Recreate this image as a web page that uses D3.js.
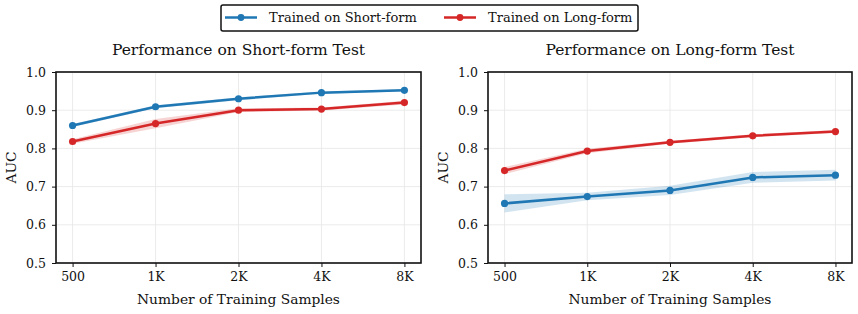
<!DOCTYPE html>
<html>
<head>
<meta charset="utf-8">
<script src="https://cdn.jsdelivr.net/npm/d3@7"></script>
<style>
  body { margin: 0; background: #fff; }
  svg text { font-family: "DejaVu Serif", "Liberation Serif", serif; fill: #111; }
</style>
</head>
<body>
<svg id="chart" width="858" height="314"></svg>
<script>
// sample sizes on the x axis
const sizes = ["500", "1K", "2K", "4K", "8K"];
const yTicks = [0.5, 0.6, 0.7, 0.8, 0.9, 1.0];

// panel 1: short-form test
const shortTestShortMean = [0.860, 0.909, 0.930, 0.946, 0.952];
const shortTestShortStd  = [0.004, 0.004, 0.004, 0.003, 0.003];
const shortTestLongMean  = [0.818, 0.865, 0.900, 0.903, 0.920];
const shortTestLongStd   = [0.006, 0.012, 0.005, 0.004, 0.005];

// panel 2: long-form test
const longTestShortMean = [0.656, 0.674, 0.690, 0.724, 0.730];
const longTestShortStd  = [0.024, 0.010, 0.012, 0.014, 0.014];
const longTestLongMean  = [0.742, 0.793, 0.816, 0.833, 0.844];
const longTestLongStd   = [0.009, 0.006, 0.004, 0.004, 0.004];

const seriesNames = ["Trained on Short-form", "Trained on Long-form"];
const colors = ["#1f77b4", "#d62728"];

const panels = [
  {title: "Performance on Short-form Test", left: 56, right: 421,
   series: [[shortTestShortMean, shortTestShortStd], [shortTestLongMean, shortTestLongStd]]},
  {title: "Performance on Long-form Test", left: 488, right: 852,
   series: [[longTestShortMean, longTestShortStd], [longTestLongMean, longTestLongStd]]}
];

const plotTop = 72, plotBottom = 263;
const svg = d3.select("#chart");

panels.forEach(p => {
  const x = d3.scaleLinear().domain([-0.2, sizes.length - 1 + 0.2]).range([p.left, p.right]);
  const y = d3.scaleLinear().domain([0.5, 1.0]).range([plotBottom, plotTop]);
  const g = svg.append("g");

  // grid
  g.selectAll(".gx").data(sizes).join("line")
    .attr("x1", (d, i) => x(i)).attr("x2", (d, i) => x(i))
    .attr("y1", plotTop).attr("y2", plotBottom)
    .attr("stroke", "#e6e6e6").attr("stroke-width", 0.8);
  g.selectAll(".gy").data(yTicks).join("line")
    .attr("x1", p.left).attr("x2", p.right)
    .attr("y1", d => y(d)).attr("y2", d => y(d))
    .attr("stroke", "#e6e6e6").attr("stroke-width", 0.8);

  // bands, lines, markers
  p.series.forEach(([mean, std], s) => {
    const area = d3.area()
      .x((d, i) => x(i))
      .y0((d, i) => y(d - std[i]))
      .y1((d, i) => y(d + std[i]));
    g.append("path").datum(mean).attr("d", area)
      .attr("fill", colors[s]).attr("opacity", 0.2);
    const line = d3.line().x((d, i) => x(i)).y(d => y(d));
    g.append("path").datum(mean).attr("d", line)
      .attr("fill", "none").attr("stroke", colors[s]).attr("stroke-width", 2.5);
    g.selectAll(null).data(mean).join("circle")
      .attr("cx", (d, i) => x(i)).attr("cy", d => y(d)).attr("r", 3.6)
      .attr("fill", colors[s]);
  });

  // axes
  const xAxis = d3.axisBottom(x).tickValues(d3.range(sizes.length))
    .tickFormat(i => sizes[i]).tickSize(4).tickPadding(5);
  const yAxis = d3.axisLeft(y).tickValues(yTicks)
    .tickFormat(d3.format(".1f")).tickSize(4).tickPadding(6);
  const gx = g.append("g").attr("transform", `translate(0,${plotBottom})`).call(xAxis);
  const gy = g.append("g").attr("transform", `translate(${p.left},0)`).call(yAxis);
  [gx, gy].forEach(a => {
    a.select(".domain").remove();
    a.selectAll(".tick line").attr("stroke", "#111").attr("stroke-width", 1);
    a.selectAll(".tick text").attr("font-size", 12.5).style("font-family", "DejaVu Serif, serif").attr("fill", "#111");
  });

  // frame
  g.append("rect").attr("x", p.left).attr("y", plotTop)
    .attr("width", p.right - p.left).attr("height", plotBottom - plotTop)
    .attr("fill", "none").attr("stroke", "#111").attr("stroke-width", 1.6);

  g.append("text").attr("x", (p.left + p.right) / 2).attr("y", 55)
    .attr("text-anchor", "middle").attr("font-size", 15.5).text(p.title);
  g.append("text").attr("x", (p.left + p.right) / 2).attr("y", 304)
    .attr("text-anchor", "middle").attr("font-size", 13.8).text("Number of Training Samples");
  g.append("text")
    .attr("transform", `translate(${p.left - 40},${(plotTop + plotBottom) / 2}) rotate(-90)`)
    .attr("text-anchor", "middle").attr("font-size", 13.8).text("AUC");
});

// legend
const lg = svg.append("g");
lg.append("rect").attr("x", 221).attr("y", 5).attr("width", 417).attr("height", 26)
  .attr("rx", 2).attr("fill", "#fff").attr("stroke", "#111").attr("stroke-width", 1.5);
const legendX = [225, 444];
seriesNames.forEach((name, s) => {
  const lx = legendX[s];
  lg.append("line").attr("x1", lx).attr("x2", lx + 32).attr("y1", 17.5).attr("y2", 17.5)
    .attr("stroke", colors[s]).attr("stroke-width", 2.5);
  lg.append("circle").attr("cx", lx + 16).attr("cy", 17.5).attr("r", 3.4).attr("fill", colors[s]);
  lg.append("text").attr("x", lx + 44).attr("y", 22).attr("font-size", 13).text(name);
});
</script>
</body>
</html>
